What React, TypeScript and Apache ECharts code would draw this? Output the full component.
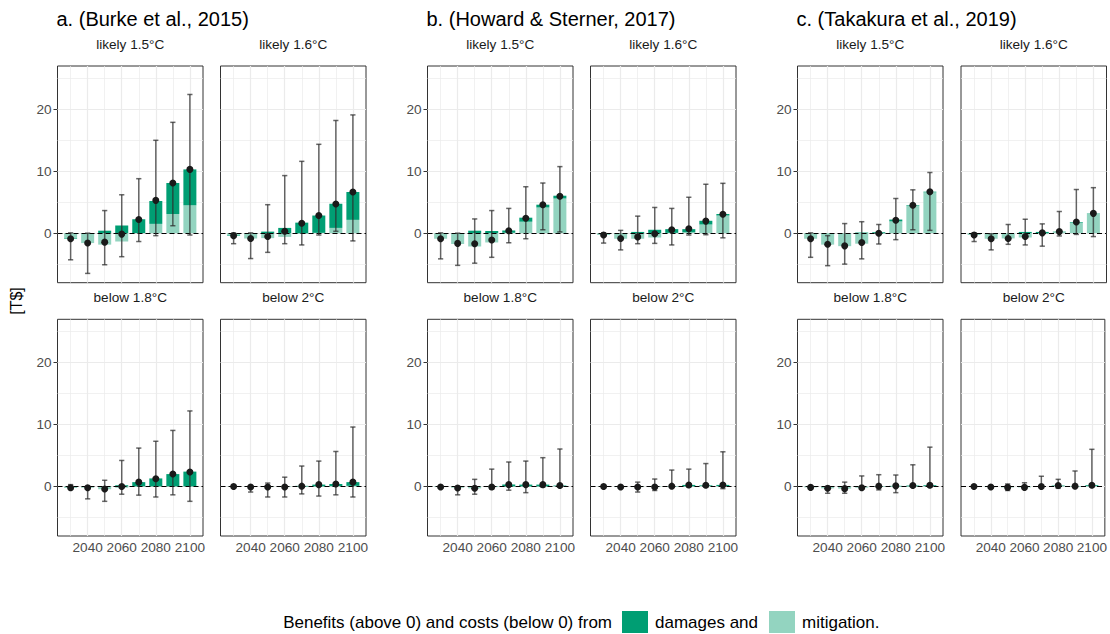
import React, { useEffect, useRef } from 'react';
import * as echarts from 'echarts';

const years = [2030, 2040, 2050, 2060, 2070, 2080, 2090, 2100];
const xTicks = [2040, 2060, 2080, 2100];
const xMinor = [2030, 2050, 2070, 2090];
const yTicks = [0, 10, 20];
const yMinor = [-5, 5, 15, 25];
const groupTitles = ['a. (Burke et al., 2015)', 'b. (Howard & Sterner, 2017)', 'c. (Takakura et al., 2019)'];
const scenarios = ['likely 1.5°C', 'likely 1.6°C', 'below 1.8°C', 'below 2°C'];
const legendTitle = 'Benefits (above 0) and costs (below 0) from';
const damName = 'damages and';
const mitName = 'mitigation.';
const yTitle = '[T$]';

// a. Burke
const burkeL15Dam = [-0.1, 0, 0.4, 1.25, 2.25, 3.7, 5.0, 5.8];
const burkeL15Mit = [-0.8, -1.6, -1.85, -1.35, 0, 1.5, 3.1, 4.5];
const burkeL15Pt = [-0.9, -1.6, -1.45, -0.15, 2.2, 5.3, 8.1, 10.3];
const burkeL15Lo = [-4.3, -6.5, -5.1, -3.8, -1.35, -0.4, 1.2, -0.3];
const burkeL15Hi = [0.05, 0, 3.65, 6.2, 8.8, 15.0, 17.9, 22.4];

const burkeL16Dam = [-0.1, 0, 0.25, 0.85, 1.7, 2.8, 3.9, 4.5];
const burkeL16Mit = [-0.3, -0.85, -0.8, -0.6, -0.1, 0.05, 0.85, 2.15];
const burkeL16Pt = [-0.4, -0.85, -0.55, 0.3, 1.6, 2.85, 4.7, 6.65];
const burkeL16Lo = [-1.7, -4.1, -3.1, -1.7, -1.9, -0.3, 0.3, -1.25];
const burkeL16Hi = [0, 0.05, 4.6, 9.3, 11.6, 14.35, 18.2, 19.1];

const burkeB18Dam = [-0.05, 0, 0.05, 0.2, 0.7, 1.3, 2.0, 2.4];
const burkeB18Mit = [-0.15, -0.2, -0.45, -0.2, 0, 0, 0, 0];
const burkeB18Pt = [-0.2, -0.2, -0.4, 0, 0.7, 1.25, 2.0, 2.35];
const burkeB18Lo = [-0.5, -2.0, -2.4, -1.25, -1.4, -1.7, -1.35, -2.4];
const burkeB18Hi = [0.3, 0, 1.0, 4.2, 6.2, 7.3, 9.05, 12.2];

const burkeB20Dam = [0, 0, 0, 0, 0.1, 0.3, 0.35, 0.6];
const burkeB20Mit = [-0.05, -0.1, -0.1, -0.1, -0.05, 0, 0.05, 0.1];
const burkeB20Pt = [0, -0.1, -0.1, -0.1, 0.05, 0.3, 0.4, 0.7];
const burkeB20Lo = [-0.1, -0.9, -1.7, -1.7, -1.2, -1.55, -1.35, -1.7];
const burkeB20Hi = [0.1, 0, 0.55, 1.5, 3.3, 4.1, 5.65, 9.6];

// b. Howard & Sterner
const howardL15Dam = [0, 0, 0.4, 0.35, 0.4, 0.65, 0.45, 0.45];
const howardL15Mit = [-0.9, -1.75, -2.15, -1.5, 0.05, 1.85, 4.15, 5.6];
const howardL15Pt = [-0.9, -1.65, -1.7, -1.1, 0.4, 2.4, 4.6, 5.95];
const howardL15Lo = [-4.15, -5.2, -4.85, -3.9, -1.55, -0.9, 0.55, 0.2];
const howardL15Hi = [0.05, 0, 2.3, 3.65, 4.0, 7.5, 8.1, 10.75];

const howardL16Dam = [0, 0, 0.2, 0.55, 0.6, 0.5, 0.6, 0.25];
const howardL16Mit = [-0.3, -0.9, -0.9, -0.7, 0.05, 0.15, 1.4, 2.85];
const howardL16Pt = [-0.3, -0.85, -0.6, -0.1, 0.55, 0.7, 1.95, 3.05];
const howardL16Lo = [-1.6, -2.7, -1.7, -1.65, -1.9, -0.3, -0.25, -0.75];
const howardL16Hi = [0.05, 0.45, 2.75, 4.15, 4.0, 5.8, 7.9, 8.05];

const howardB18Dam = [0, 0, 0, 0.05, 0.3, 0.3, 0.3, 0.1];
const howardB18Mit = [-0.1, -0.2, -0.3, -0.1, 0, 0, 0, 0.05];
const howardB18Pt = [-0.1, -0.25, -0.3, -0.1, 0.3, 0.3, 0.3, 0.15];
const howardB18Lo = [-0.15, -1.35, -1.25, -0.45, -0.6, -1.0, -0.1, -0.1];
const howardB18Hi = [0.05, 0, 1.15, 2.8, 3.95, 4.1, 4.65, 6.05];

const howardB20Dam = [0, 0, 0, 0, 0.05, 0.25, 0.1, 0.2];
const howardB20Mit = [-0.05, -0.1, -0.1, -0.1, 0, 0, 0.1, 0.05];
const howardB20Pt = [0, -0.1, -0.1, -0.1, 0.05, 0.25, 0.2, 0.25];
const howardB20Lo = [-0.05, -0.15, -0.9, -0.65, -0.1, -0.1, -0.1, -0.35];
const howardB20Hi = [0.05, 0.05, 0.7, 1.2, 2.65, 2.8, 3.7, 5.6];

// c. Takakura
const takakuraL15Dam = [0, 0, 0, 0.1, 0.15, 0.3, 0.1, 0.1];
const takakuraL15Mit = [-0.9, -1.85, -2.1, -1.7, -0.1, 1.9, 4.4, 6.6];
const takakuraL15Pt = [-0.9, -1.8, -2.05, -1.5, 0, 2.1, 4.5, 6.7];
const takakuraL15Lo = [-3.9, -5.25, -5.0, -4.15, -1.75, -1.05, 0.55, 0.45];
const takakuraL15Hi = [0.05, -0.4, 1.55, 1.85, 1.4, 5.6, 7.0, 9.8];

const takakuraL16Dam = [0, 0, 0, 0.2, 0.2, 0.05, 0.1, 0.05];
const takakuraL16Mit = [-0.3, -0.9, -0.85, -0.7, -0.15, 0.2, 1.7, 3.15];
const takakuraL16Pt = [-0.3, -0.9, -0.85, -0.55, 0.05, 0.25, 1.8, 3.2];
const takakuraL16Lo = [-1.35, -2.7, -1.8, -1.9, -2.1, -0.45, -0.2, -0.55];
const takakuraL16Hi = [0.05, -0.1, 1.4, 2.25, 1.5, 3.5, 7.05, 7.35];

const takakuraB18Dam = [0, 0, 0, 0, 0.05, 0.1, 0.15, 0.15];
const takakuraB18Mit = [-0.15, -0.3, -0.35, -0.2, 0, 0, 0, 0.05];
const takakuraB18Pt = [-0.15, -0.3, -0.35, -0.2, 0.05, 0.1, 0.15, 0.2];
const takakuraB18Lo = [-0.2, -1.1, -1.1, -0.2, -0.55, -1.0, -0.1, -0.1];
const takakuraB18Hi = [0, 0, 0.7, 1.7, 1.9, 1.85, 3.5, 6.35];

const takakuraB20Dam = [0, 0, 0, 0, 0, 0.1, 0.05, 0.15];
const takakuraB20Mit = [0, -0.1, -0.15, -0.15, 0, 0.05, 0, 0.05];
const takakuraB20Pt = [0, -0.1, -0.15, -0.15, 0, 0.15, 0.05, 0.2];
const takakuraB20Lo = [-0.05, -0.1, -0.65, -0.3, -0.1, -0.3, -0.1, -0.1];
const takakuraB20Hi = [0.05, 0.05, 0.4, 0.6, 1.65, 1.15, 2.5, 6.0];

const panels = [
  [burkeL15Dam, burkeL15Mit, burkeL15Pt, burkeL15Lo, burkeL15Hi],
  [burkeL16Dam, burkeL16Mit, burkeL16Pt, burkeL16Lo, burkeL16Hi],
  [burkeB18Dam, burkeB18Mit, burkeB18Pt, burkeB18Lo, burkeB18Hi],
  [burkeB20Dam, burkeB20Mit, burkeB20Pt, burkeB20Lo, burkeB20Hi],
  [howardL15Dam, howardL15Mit, howardL15Pt, howardL15Lo, howardL15Hi],
  [howardL16Dam, howardL16Mit, howardL16Pt, howardL16Lo, howardL16Hi],
  [howardB18Dam, howardB18Mit, howardB18Pt, howardB18Lo, howardB18Hi],
  [howardB20Dam, howardB20Mit, howardB20Pt, howardB20Lo, howardB20Hi],
  [takakuraL15Dam, takakuraL15Mit, takakuraL15Pt, takakuraL15Lo, takakuraL15Hi],
  [takakuraL16Dam, takakuraL16Mit, takakuraL16Pt, takakuraL16Lo, takakuraL16Hi],
  [takakuraB18Dam, takakuraB18Mit, takakuraB18Pt, takakuraB18Lo, takakuraB18Hi],
  [takakuraB20Dam, takakuraB20Mit, takakuraB20Pt, takakuraB20Lo, takakuraB20Hi],
];

const FONT = '"Liberation Sans", Arial, Helvetica, sans-serif';
const DAM_COLOR = '#009e73';
const MIT_COLOR = '#93d4c0';
const GRID_COLOR = '#ebebeb';
const BAR_W = 13;

const colLefts = [[57.5, 220.5], [427.5, 590.5], [797.5, 961]];
const rowTops = [66, 319.3];
const PW = 145.5;
const PH = 216.7;
const X_MIN = 2022.3;
const X_MAX = 2107.7;
const Y_MIN = -8;
const Y_MAX = 27;

function barRect(api: any, x: number, from: number, to: number, color: string) {
  const a = api.coord([x, from]);
  const b = api.coord([x, to]);
  const y0 = Math.min(a[1], b[1]);
  const h = Math.abs(a[1] - b[1]);
  return {
    type: 'rect',
    shape: { x: a[0] - BAR_W / 2, y: y0, width: BAR_W, height: h },
    style: { fill: color },
  };
}

function buildOption() {
  const grid: any[] = [];
  const xAxis: any[] = [];
  const yAxis: any[] = [];
  const series: any[] = [];
  const graphic: any[] = [];
  const title: any[] = [];

  groupTitles.forEach((t, g) => {
    title.push({
      text: t,
      left: colLefts[g][0] - 1,
      top: 9,
      padding: 0,
      textStyle: { fontSize: 20, fontWeight: 'normal', color: '#000', fontFamily: FONT },
    });
  });

  for (let p = 0; p < 12; p++) {
    const g = Math.floor(p / 4);
    const s = p % 4;
    const row = Math.floor(s / 2);
    const col = s % 2;
    const left = colLefts[g][col];
    const top = rowTops[row];
    grid.push({
      left, top, width: PW, height: PH,
      show: true, borderColor: '#333333', borderWidth: 1, backgroundColor: '#fff',
      containLabel: false,
    });
    xAxis.push({
      type: 'value', gridIndex: p, min: X_MIN, max: X_MAX,
      axisLine: { show: false },
      axisTick: { show: row === 1, customValues: xTicks, length: 4, lineStyle: { color: '#333333' } },
      axisLabel: {
        show: row === 1, customValues: xTicks, color: '#4d4d4d', fontSize: 13.6, margin: 4, fontFamily: FONT,
        formatter: (v: number) => String(Math.round(v)),
      },
      splitLine: { show: false },
    });
    yAxis.push({
      type: 'value', gridIndex: p, min: Y_MIN, max: Y_MAX,
      axisLine: { show: false },
      axisTick: { show: col === 0, customValues: yTicks, length: 4, lineStyle: { color: '#333333' } },
      axisLabel: {
        show: col === 0, customValues: yTicks, color: '#4d4d4d', fontSize: 13.6, margin: 6, fontFamily: FONT,
        formatter: (v: number) => String(Math.round(v)),
      },
      splitLine: { show: false },
    });
    graphic.push({
      type: 'text',
      x: left + PW / 2,
      y: top - 22,
      style: { text: scenarios[s], textAlign: 'center', textVerticalAlign: 'middle', fontSize: 13.6, fill: '#1a1a1a', fontFamily: FONT },
    });

    const [dam, mit, pt, lo, hi] = panels[p];
    const gridLines: any[] = [];
    yTicks.forEach((v) => gridLines.push({ yAxis: v, lineStyle: { color: GRID_COLOR, width: 1.2, type: 'solid' } }));
    yMinor.forEach((v) => gridLines.push({ yAxis: v, lineStyle: { color: GRID_COLOR, width: 0.7, type: 'solid' } }));
    xTicks.forEach((v) => gridLines.push({ xAxis: v, lineStyle: { color: GRID_COLOR, width: 1.2, type: 'solid' } }));
    xMinor.forEach((v) => gridLines.push({ xAxis: v, lineStyle: { color: GRID_COLOR, width: 0.7, type: 'solid' } }));

    // gridlines holder
    series.push({
      type: 'scatter', xAxisIndex: p, yAxisIndex: p, z: 1, silent: true, symbolSize: 0,
      data: years.map((y, i) => [y, pt[i]]),
      itemStyle: { opacity: 0 },
      markLine: { z: 1, silent: true, symbol: ['none', 'none'], label: { show: false }, data: gridLines, animation: false },
    });
    // mitigation bars (stacked first, next to zero)
    series.push({
      name: mitName, type: 'custom', xAxisIndex: p, yAxisIndex: p, z: 2, silent: true,
      itemStyle: { color: MIT_COLOR },
      data: years.map((y, i) => [y, mit[i]]),
      encode: { x: 0, y: 1 },
      renderItem: (params: any, api: any) => barRect(api, api.value(0), 0, api.value(1), MIT_COLOR),
    });
    // damages bars (stacked beyond mitigation, same sign stacking)
    series.push({
      name: damName, type: 'custom', xAxisIndex: p, yAxisIndex: p, z: 2, silent: true,
      itemStyle: { color: DAM_COLOR },
      data: years.map((y, i) => [y, dam[i], mit[i]]),
      encode: { x: 0, y: 1 },
      renderItem: (params: any, api: any) => {
        const x = api.value(0);
        const d = api.value(1);
        const m = api.value(2);
        const base = (d >= 0 ? (m > 0 ? m : 0) : (m < 0 ? m : 0));
        return barRect(api, x, base, base + d, DAM_COLOR);
      },
    });
    // error bars + zero line
    series.push({
      type: 'custom', xAxisIndex: p, yAxisIndex: p, z: 3, silent: true,
      data: years.map((y, i) => [y, lo[i], hi[i]]),
      encode: { x: 0, y: [1, 2] },
      renderItem: (params: any, api: any) => {
        const x = api.value(0);
        const pLo = api.coord([x, api.value(1)]);
        const pHi = api.coord([x, api.value(2)]);
        const hw = 2.6;
        const style = { stroke: 'rgba(45,45,45,0.72)', lineWidth: 1.5 };
        return {
          type: 'group',
          children: [
            { type: 'line', shape: { x1: pLo[0], y1: pLo[1], x2: pHi[0], y2: pHi[1] }, style },
            { type: 'line', shape: { x1: pLo[0] - hw, y1: pLo[1], x2: pLo[0] + hw, y2: pLo[1] }, style },
            { type: 'line', shape: { x1: pHi[0] - hw, y1: pHi[1], x2: pHi[0] + hw, y2: pHi[1] }, style },
          ],
        };
      },
      markLine: {
        z: 3, silent: true, symbol: ['none', 'none'], label: { show: false },
        data: [{ yAxis: 0 }],
        lineStyle: { color: '#000', width: 1.2, type: [5, 3] },
      },
    });
    // points
    series.push({
      type: 'custom', xAxisIndex: p, yAxisIndex: p, z: 4, silent: true,
      data: years.map((y, i) => [y, pt[i]]),
      encode: { x: 0, y: 1 },
      renderItem: (params: any, api: any) => {
        const c = api.coord([api.value(0), api.value(1)]);
        return { type: 'circle', shape: { cx: c[0], cy: c[1], r: 3.5 }, style: { fill: '#1a1a1a' } };
      },
    });
  }

  graphic.push({
    type: 'text', x: 16, y: 301, rotation: Math.PI / 2,
    style: { text: yTitle, textAlign: 'center', textVerticalAlign: 'middle', fontSize: 16, fill: '#000', fontFamily: FONT },
  });
  graphic.push({
    type: 'text', x: 612, y: 622,
    style: { text: legendTitle, textAlign: 'right', textVerticalAlign: 'middle', fontSize: 17, fill: '#000', fontFamily: FONT },
  });

  return {
    animation: false,
    backgroundColor: '#fff',
    textStyle: { fontFamily: FONT },
    title,
    grid,
    xAxis,
    yAxis,
    series,
    graphic,
    legend: {
      data: [
        { name: damName, itemStyle: { color: DAM_COLOR } },
        { name: mitName, itemStyle: { color: MIT_COLOR } },
      ],
      left: 622, top: 611, padding: 0,
      icon: 'rect', itemWidth: 26, itemHeight: 22, itemGap: 11,
      selectedMode: false,
      textStyle: { fontSize: 17, color: '#000', fontFamily: FONT, padding: [0, 0, 0, 2] },
    },
  };
}

export default function App() {
  const ref = useRef<HTMLDivElement>(null);
  useEffect(() => {
    document.body.style.margin = '0';
    if (!ref.current) return;
    const chart = echarts.init(ref.current, undefined, { renderer: 'svg' });
    chart.setOption(buildOption() as any);
    return () => chart.dispose();
  }, []);
  return <div ref={ref} style={{ width: 1110, height: 634 }} />;
}
